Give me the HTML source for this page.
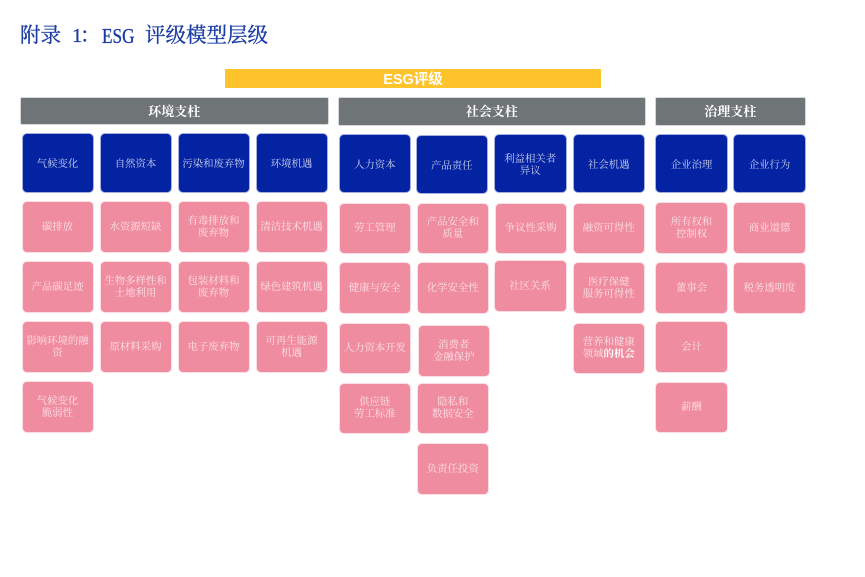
<!DOCTYPE html>
<html lang="zh">
<head>
<meta charset="utf-8">
<style>
html,body{margin:0;padding:0;background:#fff;width:865px;height:577px;overflow:hidden}
#p{position:relative;width:865px;height:577px;filter:blur(.35px)}
#p div{position:absolute;box-sizing:border-box;display:flex;align-items:center;justify-content:center;text-align:center;font-family:"Liberation Serif","Noto Serif CJK SC",serif}
#p span.t{position:absolute;top:21.5px;line-height:28px;font-family:"Liberation Serif","Noto Serif CJK SC",serif;font-size:20.5px;color:#1b3ca6;font-weight:400;-webkit-text-stroke:.35px #1b3ca6;white-space:pre;transform-origin:0 50%}
.y{background:#ffc42c;color:#fff;font-family:"Liberation Sans","Noto Sans CJK SC",sans-serif!important;font-weight:700;font-size:14.5px}
.g{background:#6f7477;color:#fff;font-size:13px;font-weight:700;border-radius:2px;border:1px solid #d4d6d7;padding-bottom:1px}
.b{background:#0323a3;color:#ccd3ee;font-size:10.4px;line-height:12.2px;border-radius:5px;border:1px solid #a3afe0;padding-top:4px}
.k{background:#ef8ca0;color:#fde3e8;font-size:10.4px;line-height:12.2px;border-radius:5px;border:1px solid #fbdde3;padding-top:2px}
</style>
</head>
<body>
<div id="p">
<span class="t" style="left:20px">附录</span>
<span class="t" style="left:72px">1</span>
<span class="t" style="left:80px">：</span>
<span class="t" style="left:102px;font-size:21px;transform:scaleX(.82)">ESG</span>
<span class="t" style="left:145px">评级模型层级</span>
<div class="y" style="left:225px;top:69px;width:376px;height:19px">ESG评级</div>

<div class="g" style="left:20px;top:96.5px;width:308.5px;height:28px">环境支柱</div>
<div class="g" style="left:337.5px;top:96.5px;width:308.5px;height:29px">社会支柱</div>
<div class="g" style="left:654.5px;top:96.5px;width:151.5px;height:29px">治理支柱</div>

<div class="b" style="left:21.5px;top:133px;width:72px;height:59.5px">气候变化</div>
<div class="b" style="left:99.5px;top:133px;width:72px;height:59.5px">自然资本</div>
<div class="b" style="left:177.5px;top:133px;width:72px;height:59.5px">污染和废弃物</div>
<div class="b" style="left:255.5px;top:133px;width:72px;height:59.5px">环境机遇</div>

<div class="k" style="left:21.5px;top:201px;width:72px;height:51.5px">碳排放</div>
<div class="k" style="left:99.5px;top:201px;width:72px;height:51.5px">水资源短缺</div>
<div class="k" style="left:177.5px;top:201px;width:72px;height:51.5px">有毒排放和<br>废弃物</div>
<div class="k" style="left:255.5px;top:201px;width:72px;height:51.5px">清洁技术机遇</div>
<div class="k" style="left:21.5px;top:261px;width:72px;height:51.5px">产品碳足迹</div>
<div class="k" style="left:99.5px;top:261px;width:72px;height:51.5px">生物多样性和<br>土地利用</div>
<div class="k" style="left:177.5px;top:261px;width:72px;height:51.5px">包装材料和<br>废弃物</div>
<div class="k" style="left:255.5px;top:261px;width:72px;height:51.5px">绿色建筑机遇</div>
<div class="k" style="left:21.5px;top:321px;width:72px;height:51.5px">影响环境的融<br>资</div>
<div class="k" style="left:99.5px;top:321px;width:72px;height:51.5px">原材料采购</div>
<div class="k" style="left:177.5px;top:321px;width:72px;height:51.5px">电子废弃物</div>
<div class="k" style="left:255.5px;top:321px;width:72px;height:51.5px">可再生能源<br>机遇</div>
<div class="k" style="left:21.5px;top:381px;width:72px;height:52px">气候变化<br>脆弱性</div>

<div class="b" style="left:338.5px;top:134.3px;width:72.5px;height:59px">人力资本</div>
<div class="b" style="left:415.5px;top:135.2px;width:72.5px;height:59px">产品责任</div>
<div class="b" style="left:494px;top:134.3px;width:72.5px;height:59px">利益相关者<br>异议</div>
<div class="b" style="left:572.5px;top:134.3px;width:72.5px;height:59px">社会机遇</div>

<div class="k" style="left:338.5px;top:202.5px;width:72.5px;height:51.3px">劳工管理</div>
<div class="k" style="left:416.5px;top:202.5px;width:72.5px;height:51.3px">产品安全和<br>质量</div>
<div class="k" style="left:494.5px;top:202.5px;width:72.5px;height:51.3px">争议性采购</div>
<div class="k" style="left:572.5px;top:202.5px;width:72.5px;height:51.3px">融资可得性</div>
<div class="k" style="left:338.5px;top:262.3px;width:72.5px;height:51.5px">健康与安全</div>
<div class="k" style="left:416.5px;top:262.3px;width:72.5px;height:51.5px">化学安全性</div>
<div class="k" style="left:493.5px;top:260px;width:73px;height:51.5px">社区关系</div>
<div class="k" style="left:572.5px;top:262.3px;width:72.5px;height:51.5px">医疗保健<br>服务可得性</div>
<div class="k" style="left:338.5px;top:322.5px;width:72.5px;height:51.5px">人力资本开发</div>
<div class="k" style="left:417.5px;top:325px;width:72.5px;height:51.5px">消费者<br>金融保护</div>
<div class="k" style="left:572.5px;top:322.5px;width:72.5px;height:51.5px"><span>营养和健康<br>领域<b style="color:#fff">的机会</b></span></div>
<div class="k" style="left:338.5px;top:382.5px;width:72.5px;height:51.5px">供应链<br>劳工标准</div>
<div class="k" style="left:416.5px;top:382.5px;width:72.5px;height:51.5px">隐私和<br>数据安全</div>
<div class="k" style="left:416.5px;top:443px;width:72.5px;height:51.5px">负责任投资</div>

<div class="b" style="left:655.3px;top:134.3px;width:72.5px;height:59px">企业治理</div>
<div class="b" style="left:733.3px;top:134.3px;width:72.5px;height:59px">企业行为</div>
<div class="k" style="left:655.3px;top:202.3px;width:72.5px;height:51.4px">所有权和<br>控制权</div>
<div class="k" style="left:733.3px;top:202.3px;width:72.5px;height:51.4px">商业道德</div>
<div class="k" style="left:655.3px;top:262.3px;width:72.5px;height:51.4px">董事会</div>
<div class="k" style="left:733.3px;top:262.3px;width:72.5px;height:51.4px">税务透明度</div>
<div class="k" style="left:655.3px;top:321.3px;width:72.5px;height:51.4px">会计</div>
<div class="k" style="left:655.3px;top:381.7px;width:72.5px;height:51.6px">薪酬</div>
</div>
</body>
</html>
